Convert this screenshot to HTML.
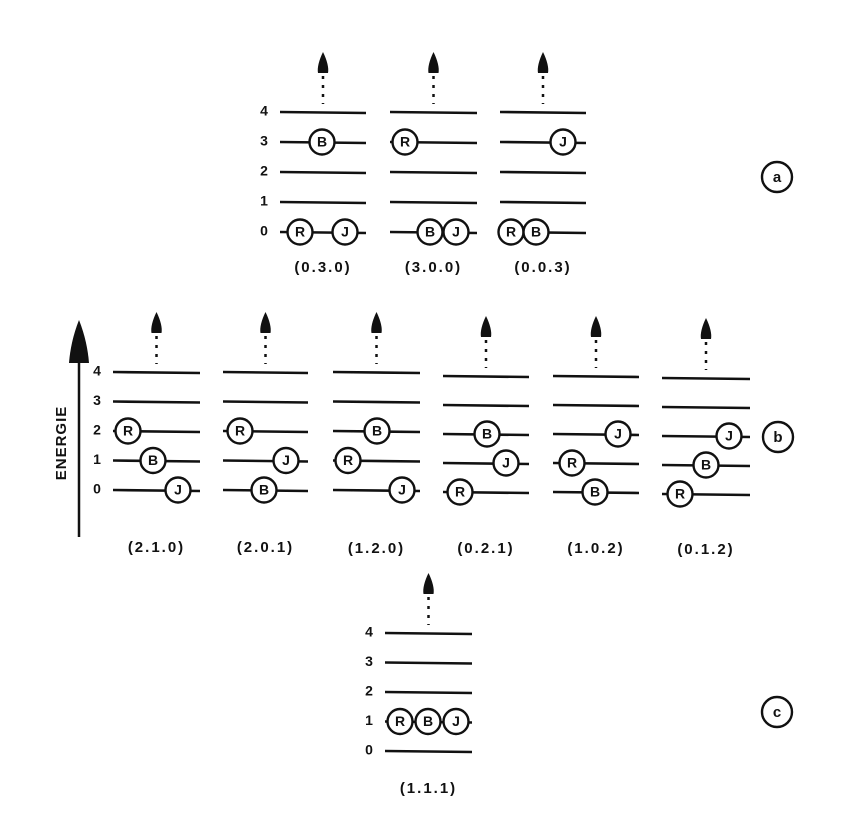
<!DOCTYPE html>
<html><head><meta charset="utf-8"><style>
html,body{margin:0;padding:0;background:#fff}
svg{display:block}
text{font-family:"Liberation Sans",sans-serif;font-weight:bold;fill:#111}
</style></head><body>
<svg id="s" width="863" height="839" viewBox="0 0 863 839" xmlns="http://www.w3.org/2000/svg">
<g>
<line x1="79" y1="358" x2="79" y2="537" stroke="#111" stroke-width="2.5"/>
<path d="M79 320 C73 335 70 350 69 363 L89 363 C88 350 85 335 79 320 Z" fill="#111"/>
<text x="62" y="443" font-size="15" text-anchor="middle" dominant-baseline="middle" transform="rotate(-90 62 443)" letter-spacing="1">ENERGIE</text>
</g>
</svg>
<script>
// panels: [x0, x1, yLevel0, levelSpacing, label, labelY, groupTag]
const panelX0 = [280,390,500, 113,223,333,443,553,662, 385];
const panelX1 = [366,477,586, 200,308,420,529,639,750, 472];
const panelY0 = [232,232,232, 490,490,490,492,492,494, 751];
const panelSpacing = [30,30,30, 29.5,29.5,29.5,29,29,29, 29.5];
const panelLabels = ["(0.3.0)","(3.0.0)","(0.0.3)","(2.1.0)","(2.0.1)","(1.2.0)","(0.2.1)","(1.0.2)","(0.1.2)","(1.1.1)"];
const panelLabelY = [268,268,268, 548,548,549,549,549,550, 789];
const showLevelNums = [true,false,false, true,false,false,false,false,false, true];
// particle levels [R,B,J] and x positions
const levelR = [0,3,0, 2,2,1,0,1,0, 1];
const levelB = [3,0,0, 1,0,2,2,0,1, 1];
const levelJ = [0,0,3, 0,1,0,1,2,2, 1];
const xR = [300,405,511, 128,240,348,460,572,680, 400];
const xB = [322,430,536, 153,264,377,487,595,706, 428];
const xJ = [345,456,563, 178,286,402,506,618,729, 456];
const levelNumLabels = ["0","1","2","3","4"];
const tags = ["a","b","c"];
const tagX = [777,778,777];
const tagY = [177,437,712];

const NS="http://www.w3.org/2000/svg";
const svg=document.getElementById('s');
function mk(t,a,p){const e=document.createElementNS(NS,t);for(const k in a)e.setAttribute(k,a[k]);(p||svg).appendChild(e);return e;}

for(let i=0;i<panelLabels.length;i++){
  const g=mk('g',{});
  
  
  const x0=panelX0[i],x1=panelX1[i],y0=panelY0[i],dy=panelSpacing[i];
  const ly=l=>y0-l*dy;
  for(let l=0;l<5;l++){
    const ln=mk('line',{x1:x0,y1:ly(l),x2:x1,y2:ly(l)+1,stroke:'#111','stroke-width':2.6},g);
    
    
    if(showLevelNums[i]){
      const t=mk('text',{x:x0-16,y:ly(l),'font-size':14,'text-anchor':'middle','dominant-baseline':'middle'},g);
      t.textContent=levelNumLabels[l];
      
      
    }
  }
  const ax=(x0+x1)/2, top=ly(4);
  const ar=mk('path',{d:`M${ax} ${top-60} C${ax-4} ${top-52} ${ax-6} ${top-44} ${ax-5} ${top-39} L${ax+5} ${top-39} C${ax+6} ${top-44} ${ax+4} ${top-52} ${ax} ${top-60} Z`,fill:'#111'},g);
  
  
  const dl=mk('line',{x1:ax,y1:top-36,x2:ax,y2:top-8,stroke:'#111','stroke-width':2.5,'stroke-dasharray':'3 6'},g);
  
  
  [['R',xR[i],levelR[i]],['B',xB[i],levelB[i]],['J',xJ[i],levelJ[i]]].forEach(([n,x,l])=>{
    const y=ly(l);
    const c=mk('circle',{cx:x,cy:y,r:12.5,fill:'#fff',stroke:'#111','stroke-width':2.4},g);
    
    
    const t=mk('text',{x:x,y:y+1,'font-size':14,'text-anchor':'middle','dominant-baseline':'middle'},g);
    t.textContent=n;
    
    
  });
  const lab=mk('text',{x:ax,y:panelLabelY[i],'font-size':15,'text-anchor':'middle','dominant-baseline':'middle','letter-spacing':2},g);
  lab.textContent=panelLabels[i];
  
  
}
for(let k=0;k<tags.length;k++){
  const c=mk('circle',{cx:tagX[k],cy:tagY[k],r:15,fill:'#fff',stroke:'#111','stroke-width':2.4});
  
  
  const t=mk('text',{x:tagX[k],y:tagY[k]+1,'font-size':15,'text-anchor':'middle','dominant-baseline':'middle'});
  t.textContent=tags[k];
  
  
}
</script>
</body></html>
